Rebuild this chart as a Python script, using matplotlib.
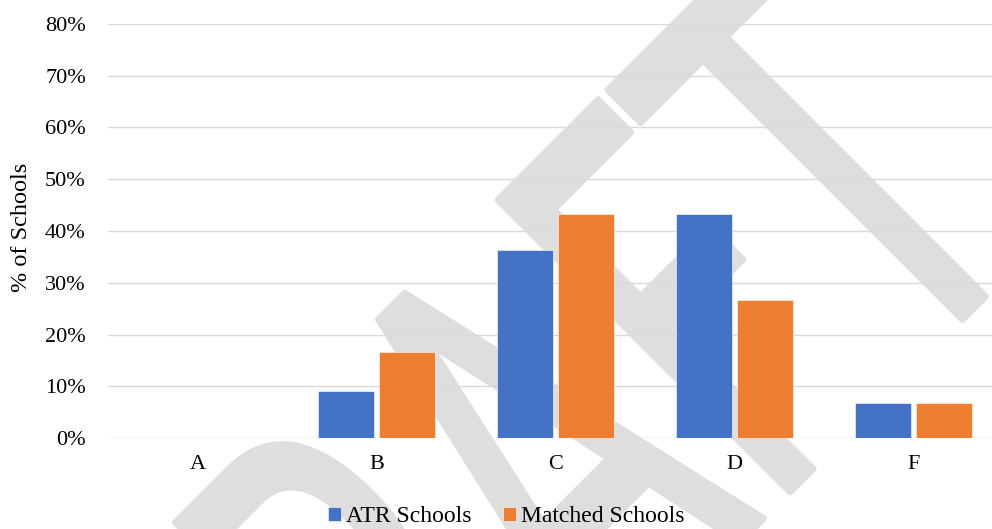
import matplotlib
matplotlib.use("Agg")
import matplotlib.pyplot as plt
import numpy as np
from matplotlib.textpath import TextPath
from matplotlib.patches import PathPatch
from matplotlib.font_manager import FontProperties
from matplotlib.transforms import Affine2D, IdentityTransform
from matplotlib.ticker import PercentFormatter

grades = ["A", "B", "C", "D", "F"]
atr_schools = [0.0, 9.1, 36.4, 43.2, 6.8]
matched_schools = [0.0, 16.7, 43.3, 26.7, 6.7]
series_names = ["ATR Schools", "Matched Schools"]
colors = ["#4472C4", "#ED7D31"]

plt.rcParams["font.family"] = ["Liberation Serif", "DejaVu Serif"]

W, H = 992, 529
fig = plt.figure(figsize=(W / 100, H / 100), dpi=100)

# big diagonal DRAFT watermark behind the chart (pixel coordinates)
wm = TextPath((0, 0), "DRAFT", size=100, prop=FontProperties(family="DejaVu Sans"))
cap = 72.9
sy = 414 / cap
sx = 0.6 * sy
x1 = wm.get_extents().x1
wm_tf = (Affine2D().scale(sx, sy)
         .translate(576 - x1 * sx, -907)
         .rotate_deg(45)
         .translate(0, H))
wm_patch = PathPatch(wm_tf.transform_path(wm), facecolor="#dedede",
                     edgecolor="#dedede", lw=4, joinstyle="round",
                     transform=IdentityTransform(), zorder=-5)
fig.add_artist(wm_patch)

ax = fig.add_axes([108 / W, 91 / H, 895 / W, 414 / H])
ax.set_facecolor("none")

x = np.arange(len(grades))
bw = 0.313
off = 0.17
ax.bar(x - off, atr_schools, bw, color=colors[0], edgecolor="white", lw=0.4,
       label=series_names[0], zorder=3)
ax.bar(x + off, matched_schools, bw, color=colors[1], edgecolor="white", lw=0.4,
       label=series_names[1], zorder=3)

ax.set_ylim(0, 80)
ax.set_xlim(-0.5, len(grades) - 0.5)
ax.set_yticks(np.arange(0, 81, 10))
ax.yaxis.set_major_formatter(PercentFormatter(decimals=0))
ax.set_xticks(x)
ax.set_xticklabels(grades)
ax.grid(axis="y", color="#d9d9d9", lw=1.0, zorder=0)
ax.set_axisbelow(True)
for s in ax.spines.values():
    s.set_visible(False)
ax.tick_params(axis="y", length=0, pad=16, labelsize=16, colors="black")
ax.tick_params(axis="x", length=0, pad=12, labelsize=16, colors="black")

fig.text(22 / W, 1 - 227 / H, "% of Schools", rotation=90, ha="center",
         va="center", fontsize=17.5)

fig.legend(loc="center", bbox_to_anchor=(506 / W, 1 - 517 / H), ncol=2,
           frameon=False, fontsize=17, handlelength=0.55, handleheight=0.55,
           handletextpad=0.2, columnspacing=1.35, borderpad=0)

fig.savefig("out.png", dpi=100)
